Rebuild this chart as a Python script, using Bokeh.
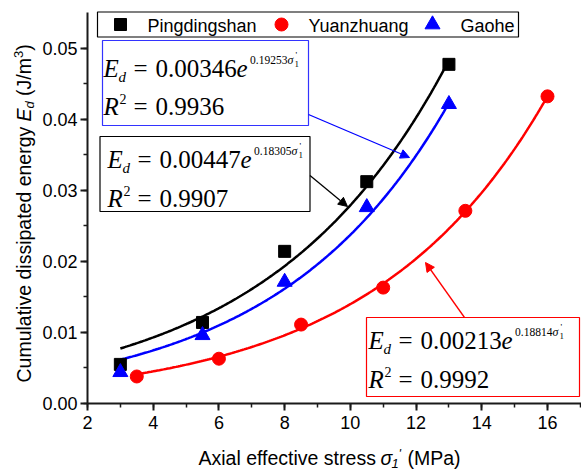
import numpy as np
from bokeh.plotting import figure
from bokeh.models import (Label, Arrow, NormalHead, BoxAnnotation, Range1d,
                          SingleIntervalTicker, PrintfTickFormatter)
from bokeh.embed import file_html
from bokeh.resources import INLINE

# ---------------- data ----------------
ping_x = [3, 5.5, 8, 10.5, 13]
ping_y = [0.0055, 0.0114, 0.0214, 0.0312, 0.0477]
yuan_x = [3.5, 6, 8.5, 11, 13.5, 16]
yuan_y = [0.0038, 0.0063, 0.0111, 0.0163, 0.0271, 0.0432]
gao_x = [3, 5.5, 8, 10.5, 13]
gao_y = [0.0044, 0.0096, 0.0171, 0.0276, 0.0421]

# exponential fits shown in the chart: E_d = a * exp(b * s), drawn over [s_min, s_max]
ping_fit = [0.00447, 0.18305, 3.0, 13.0]
gao_fit = [0.00346, 0.19253, 3.0, 13.0]
yuan_fit = [0.00213, 0.18814, 3.5, 16.0]

series_names = ["Pingdingshan", "Yuanzhuang", "Gaohe"]
x_axis_start = 2
y_axis_start = 0.0
x_ticks_interval = 2
y_ticks_interval = 0.01

# ---------------- layout ----------------
W, H = 581, 472
AX_LEFT_PX, AX_BOTTOM_PX, AX_TOP_PX = 87, 403, 12
PXX = 32.857                      # px per x unit
PXY = 7110.0                      # px per y unit


def X(px):
    return x_axis_start + (px - AX_LEFT_PX) / PXX


def Y(py):
    return y_axis_start + (AX_BOTTOM_PX - py) / PXY


# frame covers whole canvas; axes are pinned inside it
p = figure(width=W, height=H, output_backend="svg", toolbar_location=None,
           x_range=Range1d(X(0), X(W)), y_range=Range1d(Y(H), Y(0)),
           min_border_left=0, min_border_right=0, min_border_top=0,
           min_border_bottom=0, x_axis_location="below", y_axis_location="left")
p.outline_line_color = None
p.grid.visible = False
p.background_fill_color = "white"
p.border_fill_color = "white"

p.xaxis.fixed_location = y_axis_start
p.yaxis.fixed_location = x_axis_start
p.xaxis.bounds = (x_axis_start, X(W))
p.yaxis.bounds = (y_axis_start, Y(AX_TOP_PX))
p.xaxis.ticker = SingleIntervalTicker(interval=x_ticks_interval, num_minor_ticks=2)
p.yaxis.ticker = SingleIntervalTicker(interval=y_ticks_interval, num_minor_ticks=2)
p.yaxis.formatter = PrintfTickFormatter(format="%.2f")
for ax in (p.xaxis, p.yaxis):
    ax.axis_line_width = 2
    ax.axis_line_color = "#1a1a1a"
    ax.major_tick_line_color = "#1a1a1a"
    ax.minor_tick_line_color = "#1a1a1a"
    ax.major_tick_line_width = 2
    ax.minor_tick_line_width = 1.5
    ax.major_tick_out = 7
    ax.major_tick_in = 0
    ax.minor_tick_out = 4
    ax.minor_tick_in = 0
    ax.major_label_text_font = "Liberation Sans"
    ax.major_label_text_font_size = "18px"
    ax.major_label_text_color = "black"
p.yaxis.major_label_standoff = 3
p.xaxis.major_label_standoff = 5

# fit curves
for fit, col in ((ping_fit, "black"), (yuan_fit, "red"), (gao_fit, "blue")):
    a, b, s0, s1 = fit
    s = np.linspace(s0, s1, 200)
    p.line(s, a * np.exp(b * s), line_color=col, line_width=2.5)

# scatter points
p.scatter(ping_x, ping_y, marker="square", size=12, color="black")
p.scatter(yuan_x, yuan_y, marker="circle", size=13, color="red")
p.scatter(gao_x, gao_y, marker="triangle", size=15, color="blue")


def lab(px, py, text, size, font="Liberation Serif", style="normal",
        rotated=False, color="black"):
    """px, py: start of the text on its alphabetic baseline (screen px)."""
    shift = 0.3 * size
    if rotated:
        ax_, ay_ = px - shift, py
        ang = np.pi / 2
    else:
        ax_, ay_ = px, py - shift
        ang = 0.0
    p.add_layout(Label(x=X(ax_), y=Y(ay_), text=text, text_font=font,
                       text_font_size=f"{size}px", text_font_style=style,
                       text_color=color, angle=ang,
                       text_baseline="middle", text_align="left"))


# ---------------- legend (manual) ----------------
p.add_layout(BoxAnnotation(left=X(97), right=X(518), top=Y(11.5), bottom=Y(36.5),
                           fill_alpha=0, line_color="black", line_width=1.2,
                           line_alpha=1))
leg_markers = [("square", "black", 12, 120, 147),
               ("circle", "red", 13, 281, 308),
               ("triangle", "blue", 15, 432, 460)]
for (mk, col, sz, mx, tx), name in zip(leg_markers, series_names):
    p.scatter([X(mx)], [Y(24)], marker=mk, size=sz, color=col)
    lab(tx, 30.5, name, 18, font="Liberation Sans")


# ---------------- equation boxes ----------------
def equation(x0, b1, b2, coef, expo, r2):
    lab(x0, b1, "E", 25, style="italic")
    lab(x0 + 15, b1 + 6, "d", 15, style="italic")
    lab(x0 + 30, b1, "=", 25)
    lab(x0 + 52, b1, coef, 25)
    lab(x0 + 133, b1, "e", 25, style="italic")
    lab(x0 + 146.5, b1 - 12, expo, 11.5)
    lab(x0 + 184, b1 - 12, "σ", 12, style="italic")
    lab(x0 + 191, b1 - 9, "1", 9)
    lab(x0 + 192, b1 - 18, "'", 9)
    lab(x0, b2, "R", 25, style="italic")
    lab(x0 + 16, b2 - 10, "2", 14)
    lab(x0 + 30, b2, "=", 25)
    lab(x0 + 52, b2, r2, 25)


def box(l, t, r, b, col):
    p.add_layout(BoxAnnotation(left=X(l), right=X(r), top=Y(t), bottom=Y(b),
                               fill_alpha=0, line_color=col, line_width=1.2,
                               line_alpha=1))


box(102, 40, 308, 125, "#3333ff")
equation(103, 75, 113, "0.00346", "0.19253", "0.9936")
box(99.5, 136, 309.5, 211, "black")
equation(107, 166, 205, "0.00447", "0.18305", "0.9907")
box(366, 317, 579, 396, "red")
equation(368, 347, 386, "0.00213", "0.18814", "0.9992")


def arrow(x1, y1, x2, y2, col):
    p.add_layout(Arrow(end=NormalHead(size=9, fill_color=col, line_color=col),
                       x_start=X(x1), y_start=Y(y1), x_end=X(x2), y_end=Y(y2),
                       line_color=col, line_width=1.3))


arrow(308, 114, 409, 157, "blue")
arrow(309.5, 175, 347, 206, "black")
arrow(464, 317, 425, 262, "red")

# ---------------- axis titles (rich text built from pieces) ----------------
lab(198, 463, "Axial effective stress", 19.5, font="Liberation Sans")
lab(380, 463, "σ", 19.5, font="Liberation Sans", style="italic")
lab(391, 467, "1", 13, font="Liberation Sans", style="italic")
lab(398, 457, "'", 13, font="Liberation Sans", style="italic")
lab(407, 463, "(MPa)", 19.5, font="Liberation Sans")

lab(29, 382, "Cumulative dissipated energy", 19.5, font="Liberation Sans", rotated=True)
lab(29, 121, "E", 19.5, font="Liberation Sans", style="italic", rotated=True)
lab(33, 108, "d", 13, font="Liberation Sans", style="italic", rotated=True)
lab(29, 95.5, "(J/m", 19.5, font="Liberation Sans", rotated=True)
lab(22, 57.5, "3", 13, font="Liberation Sans", rotated=True)
lab(29, 50.3, ")", 19.5, font="Liberation Sans", rotated=True)

open("out.html", "w").write(file_html(p, INLINE))
